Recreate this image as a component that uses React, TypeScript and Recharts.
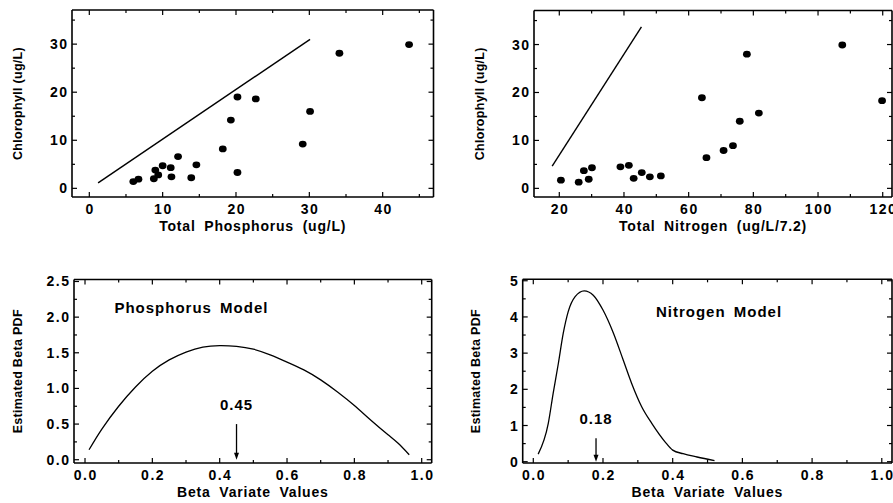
import React from 'react';
import {
  ComposedChart,
  Scatter,
  Line,
  XAxis,
  YAxis,
  ReferenceLine,
  ReferenceDot,
  Label,
} from 'recharts';

const FONT = '"Liberation Sans", Arial, Helvetica, sans-serif';

// ---------- Top-left: Total Phosphorus vs Chlorophyll ----------
const tpValues = [6.0, 6.7, 8.8, 9.0, 9.4, 10.0, 11.1, 11.2, 12.1, 13.9, 14.6, 18.2, 19.3, 20.2, 20.2, 22.7, 29.1, 30.1, 34.1, 43.6];
const tpChl = [1.4, 1.9, 2.0, 3.8, 2.8, 4.7, 4.3, 2.4, 6.6, 2.2, 4.9, 8.2, 14.2, 19.0, 3.3, 18.6, 9.2, 16.0, 28.1, 29.9];
const tpLineX = [1.2, 30.1];
const tpLineY = [1.15, 31.0];

// ---------- Top-right: Total Nitrogen vs Chlorophyll ----------
const tnValues = [20.5, 26.0, 27.6, 29.1, 30.1, 38.9, 41.5, 43.0, 45.5, 48.0, 51.4, 64.1, 65.5, 70.8, 73.7, 75.8, 78.0, 81.7, 107.5, 119.8];
const tnChl = [1.7, 1.3, 3.7, 1.9, 4.3, 4.5, 4.8, 2.1, 3.3, 2.4, 2.6, 18.9, 6.4, 7.9, 8.9, 14.0, 28.0, 15.7, 29.9, 18.3];
const tnLineX = [17.8, 45.4];
const tnLineY = [4.65, 33.7];

// ---------- Bottom-left: Phosphorus model beta PDF ----------
const pBetaX = [0.012, 0.05, 0.1, 0.15, 0.2, 0.25, 0.3, 0.35, 0.4, 0.45, 0.5, 0.55, 0.6, 0.65, 0.7, 0.75, 0.8, 0.85, 0.9, 0.93, 0.963];
const pBetaY = [0.14, 0.43, 0.75, 1.02, 1.24, 1.40, 1.51, 1.58, 1.60, 1.59, 1.55, 1.47, 1.37, 1.26, 1.12, 0.95, 0.76, 0.55, 0.35, 0.23, 0.07];
const pMean = 0.45;

// ---------- Bottom-right: Nitrogen model beta PDF ----------
const nBetaX = [0.014, 0.043, 0.057, 0.072, 0.086, 0.1, 0.12, 0.146, 0.172, 0.2, 0.23, 0.258, 0.282, 0.311, 0.34, 0.378, 0.4, 0.43, 0.47, 0.52];
const nBetaY = [0.21, 1.06, 1.89, 2.72, 3.55, 4.14, 4.56, 4.72, 4.6, 4.19, 3.55, 2.81, 2.17, 1.52, 1.06, 0.55, 0.32, 0.22, 0.13, 0.03];
const nMean = 0.18;

// ---------- Tick labels ----------
const tpMajor = [0, 10, 20, 30, 40];
const tpMinor = [5, 15, 25, 35, 45];
const tnMajor = [20, 40, 60, 80, 100, 120];
const tnMinor = [30, 50, 70, 90, 110];
const chlMajor = [0, 10, 20, 30];
const chlMinor = [5, 15, 25, 35];
const betaXMajor = [0, 0.2, 0.4, 0.6, 0.8, 1.0];
const betaXMinor = [0.1, 0.3, 0.5, 0.7, 0.9];
const pPdfMajor = [0, 0.5, 1.0, 1.5, 2.0, 2.5];
const pPdfMinor = [0.25, 0.75, 1.25, 1.75, 2.25];
const nPdfMajor = [0, 1, 2, 3, 4, 5];
const nPdfMinor = [0.5, 1.5, 2.5, 3.5, 4.5];

const zip = (xs: number[], ys: number[]) => xs.map((x, i) => ({ x, y: ys[i] }));

const tickText = {
  fontFamily: FONT,
  fontSize: 14,
  fontWeight: 700,
  letterSpacing: 1.5,
  fill: '#000',
};
const titleText = {
  fontFamily: FONT,
  fontSize: 14,
  fontWeight: 700,
  letterSpacing: 0.8,
  wordSpacing: 4,
  fill: '#000',
};
const yTitleText = {
  fontFamily: FONT,
  fontSize: 12.5,
  fontWeight: 700,
  letterSpacing: 0.3,
  fill: '#000',
};
const noteText = {
  fontFamily: FONT,
  fontSize: 15,
  fontWeight: 700,
  letterSpacing: 1,
  wordSpacing: 3,
  fill: '#000',
};

type Side = 'bottom' | 'top' | 'left' | 'right';

const makeTick = (majors: number[], side: Side, fmt: ((v: number) => string) | null) => (props: any) => {
  const { x, y, payload } = props;
  const v = payload.value;
  const major = majors.includes(v);
  const len = major ? 5 : 3;
  let ln: React.ReactNode = null;
  let lb: React.ReactNode = null;
  if (side === 'bottom') {
    ln = <line x1={x} y1={y} x2={x} y2={y - len} stroke="#000" strokeWidth={1.2} />;
    if (major && fmt)
      lb = (
        <text x={x + 0.75} y={y + 17} textAnchor="middle" style={tickText}>
          {fmt(v)}
        </text>
      );
  } else if (side === 'top') {
    ln = <line x1={x} y1={y} x2={x} y2={y + len} stroke="#000" strokeWidth={1.2} />;
  } else if (side === 'left') {
    ln = <line x1={x} y1={y} x2={x + len} y2={y} stroke="#000" strokeWidth={1.2} />;
    if (major && fmt)
      lb = (
        <text x={x - 3.5} y={y + 5} textAnchor="end" style={tickText}>
          {fmt(v)}
        </text>
      );
  } else {
    ln = <line x1={x} y1={y} x2={x - len} y2={y} stroke="#000" strokeWidth={1.2} />;
  }
  return (
    <g>
      {ln}
      {lb}
    </g>
  );
};

const xTitle = (text: string) => (props: any) => {
  const vb = props.viewBox || { x: 0, y: 0, width: 0, height: 0 };
  const cx = vb.x + vb.width / 2;
  const y = vb.y + 34;
  return (
    <text x={cx} y={y} textAnchor="middle" style={titleText}>
      {text}
    </text>
  );
};

const yTitle = (text: string, x: number) => (props: any) => {
  const vb = props.viewBox || { x: 0, y: 0, width: 0, height: 0 };
  const cy = vb.y + vb.height / 2;
  return (
    <text
      x={x}
      y={cy}
      transform={`rotate(-90 ${x} ${cy})`}
      textAnchor="middle"
      dominantBaseline="central"
      style={yTitleText}
    >
      {text}
    </text>
  );
};

const centerText = (text: string) => (props: any) => {
  const vb = props.viewBox || { x: 0, y: 0, width: 0, height: 0 };
  const cx = vb.x + (vb.width || 0) / 2;
  const cy = vb.y + (vb.height || 0) / 2;
  return (
    <text x={cx} y={cy + 5.5} textAnchor="middle" style={noteText}>
      {text}
    </text>
  );
};

const arrowShape = (p: any) => {
  const { x1, y1, x2, y2 } = p;
  const top = Math.min(y1, y2);
  const bot = Math.max(y1, y2);
  return (
    <g>
      <line x1={x1} y1={top} x2={x2} y2={bot - 5} stroke="#000" strokeWidth={1.3} />
      <path d={`M${x2 - 2.5},${bot - 7} L${x2 + 2.5},${bot - 7} L${x2},${bot} Z`} fill="#000" />
    </g>
  );
};

const dotShape = (p: any) => <ellipse cx={p.cx} cy={p.cy} rx={3.9} ry={3.4} fill="#000" />;

const frame = { stroke: '#000', strokeWidth: 1.6 };

const fmtInt = (v: number) => String(v);
const fmt1 = (v: number) => v.toFixed(1);

type PanelProps = {
  left: number;
  top: number;
  width: number;
  height: number;
  plot: { top: number; right: number; bottom: number; left: number };
  xDomain: [number, number];
  yDomain: [number, number];
  xMajor: number[];
  xMinor: number[];
  yMajor: number[];
  yMinor: number[];
  xFmt: (v: number) => string;
  yFmt: (v: number) => string;
  xLabel: string;
  yLabel: string;
  yLabelX: number;
  children: React.ReactNode;
};

// every axis is 1px thick (Recharts skips 0-sized axes), so margins are reduced by 1
function axesFor(p: PanelProps) {
  const xt = [...p.xMajor, ...p.xMinor];
  const yt = [...p.yMajor, ...p.yMinor];
  return [
    <XAxis
      key="xb"
      xAxisId="b"
      type="number"
      dataKey="x"
      orientation="bottom"
      domain={p.xDomain}
      allowDataOverflow
      ticks={xt}
      interval={0}
      height={1}
      tickSize={0}
      tickMargin={0}
      tickLine={false}
      axisLine={frame}
      tick={makeTick(p.xMajor, 'bottom', p.xFmt)}
    >
      <Label content={xTitle(p.xLabel)} />
    </XAxis>,
    <XAxis
      key="xt"
      xAxisId="t"
      type="number"
      dataKey="x"
      orientation="top"
      domain={p.xDomain}
      allowDataOverflow
      ticks={xt}
      interval={0}
      height={1}
      tickSize={0}
      tickMargin={0}
      tickLine={false}
      axisLine={frame}
      tick={makeTick(p.xMajor, 'top', null)}
    />,
    <YAxis
      key="yl"
      yAxisId="l"
      type="number"
      orientation="left"
      domain={p.yDomain}
      allowDataOverflow
      ticks={yt}
      interval={0}
      width={1}
      tickSize={0}
      tickMargin={0}
      tickLine={false}
      axisLine={frame}
      tick={makeTick(p.yMajor, 'left', p.yFmt)}
    >
      <Label content={yTitle(p.yLabel, p.yLabelX)} />
    </YAxis>,
    <YAxis
      key="yr"
      yAxisId="r"
      type="number"
      orientation="right"
      domain={p.yDomain}
      allowDataOverflow
      ticks={yt}
      interval={0}
      width={1}
      tickSize={0}
      tickMargin={0}
      tickLine={false}
      axisLine={frame}
      tick={makeTick(p.yMajor, 'right', null)}
    />,
  ];
}

function Panel(p: PanelProps) {
  const margin = {
    top: p.plot.top - 1,
    right: p.plot.right - 1,
    bottom: p.plot.bottom - 1,
    left: p.plot.left - 1,
  };
  return (
    <div style={{ position: 'absolute', left: p.left, top: p.top, width: p.width, height: p.height }}>
      <ComposedChart width={p.width} height={p.height} margin={margin}>
        {axesFor(p)}
        {p.children}
      </ComposedChart>
    </div>
  );
}

export default function App() {
  const tpPts = zip(tpValues, tpChl);
  const tnPts = zip(tnValues, tnChl);
  const tpLine = zip(tpLineX, tpLineY);
  const tnLine = zip(tnLineX, tnLineY);
  const pCurve = zip(pBetaX, pBetaY);
  const nCurve = zip(nBetaX, nBetaY);

  return (
    <div
      style={{
        position: 'fixed',
        left: 0,
        top: 0,
        width: 893,
        height: 503,
        overflow: 'hidden',
        background: '#fff',
      }}
    >
      <Panel
        left={0}
        top={0}
        width={450}
        height={250}
        plot={{ top: 10, right: 16.5, bottom: 53, left: 72 }}
        xDomain={[-2.36, 46.93]}
        yDomain={[-1.8, 37.1]}
        xMajor={tpMajor}
        xMinor={tpMinor}
        yMajor={chlMajor}
        yMinor={chlMinor}
        xFmt={fmtInt}
        yFmt={fmtInt}
        xLabel="Total Phosphorus (ug/L)"
        yLabel="Chlorophyll (ug/L)"
        yLabelX={18}
      >
        <Line
          xAxisId="b"
          yAxisId="l"
          data={tpLine}
          dataKey="y"
          type="linear"
          stroke="#000"
          strokeWidth={1.4}
          dot={false}
          isAnimationActive={false}
        />
        <Scatter xAxisId="b" yAxisId="l" data={tpPts} dataKey="y" fill="#000" shape={dotShape} isAnimationActive={false} />
      </Panel>

      <Panel
        left={450}
        top={0}
        width={460}
        height={250}
        plot={{ top: 10.5, right: 18, bottom: 53, left: 84 }}
        xDomain={[12.18, 122.87]}
        yDomain={[-1.8, 37.1]}
        xMajor={tnMajor}
        xMinor={tnMinor}
        yMajor={chlMajor}
        yMinor={chlMinor}
        xFmt={fmtInt}
        yFmt={fmtInt}
        xLabel="Total Nitrogen (ug/L/7.2)"
        yLabel="Chlorophyll (ug/L)"
        yLabelX={30}
      >
        <Line
          xAxisId="b"
          yAxisId="l"
          data={tnLine}
          dataKey="y"
          type="linear"
          stroke="#000"
          strokeWidth={1.4}
          dot={false}
          isAnimationActive={false}
        />
        <Scatter xAxisId="b" yAxisId="l" data={tnPts} dataKey="y" fill="#000" shape={dotShape} isAnimationActive={false} />
      </Panel>

      <Panel
        left={0}
        top={250}
        width={450}
        height={253}
        plot={{ top: 29.5, right: 18.3, bottom: 40, left: 74 }}
        xDomain={[-0.0327, 1.0297]}
        yDomain={[-0.046, 2.528]}
        xMajor={betaXMajor}
        xMinor={betaXMinor}
        yMajor={pPdfMajor}
        yMinor={pPdfMinor}
        xFmt={fmt1}
        yFmt={fmt1}
        xLabel="Beta Variate Values"
        yLabel="Estimated Beta PDF"
        yLabelX={18}
      >
        <Line
          xAxisId="b"
          yAxisId="l"
          data={pCurve}
          dataKey="y"
          type="natural"
          stroke="#000"
          strokeWidth={1.3}
          dot={false}
          isAnimationActive={false}
        />
        <ReferenceLine
          xAxisId="b"
          yAxisId="l"
          segment={[
            { x: pMean, y: 0.5 },
            { x: pMean, y: 0.0 },
          ]}
          ifOverflow="visible"
          shape={arrowShape}
        />
        <ReferenceDot xAxisId="b" yAxisId="l" x={pMean} y={0.77} r={0} fill="none" stroke="none" ifOverflow="visible">
          <Label content={centerText(String(pMean))} />
        </ReferenceDot>
        <ReferenceDot xAxisId="b" yAxisId="l" x={0.316} y={2.13} r={0} fill="none" stroke="none" ifOverflow="visible">
          <Label content={centerText('Phosphorus Model')} />
        </ReferenceDot>
      </Panel>

      <Panel
        left={450}
        top={250}
        width={460}
        height={253}
        plot={{ top: 29.3, right: 18, bottom: 40, left: 72.7 }}
        xDomain={[-0.0304, 1.0293]}
        yDomain={[-0.036, 5.04]}
        xMajor={betaXMajor}
        xMinor={betaXMinor}
        yMajor={nPdfMajor}
        yMinor={nPdfMinor}
        xFmt={fmt1}
        yFmt={fmtInt}
        xLabel="Beta Variate Values"
        yLabel="Estimated Beta PDF"
        yLabelX={26.5}
      >
        <Line
          xAxisId="b"
          yAxisId="l"
          data={nCurve}
          dataKey="y"
          type="monotone"
          stroke="#000"
          strokeWidth={1.3}
          dot={false}
          isAnimationActive={false}
        />
        <ReferenceLine
          xAxisId="b"
          yAxisId="l"
          segment={[
            { x: nMean, y: 0.65 },
            { x: nMean, y: 0.0 },
          ]}
          ifOverflow="visible"
          shape={arrowShape}
        />
        <ReferenceDot xAxisId="b" yAxisId="l" x={nMean} y={1.18} r={0} fill="none" stroke="none" ifOverflow="visible">
          <Label content={centerText(String(nMean))} />
        </ReferenceDot>
        <ReferenceDot xAxisId="b" yAxisId="l" x={0.533} y={4.14} r={0} fill="none" stroke="none" ifOverflow="visible">
          <Label content={centerText('Nitrogen Model')} />
        </ReferenceDot>
      </Panel>
    </div>
  );
}
